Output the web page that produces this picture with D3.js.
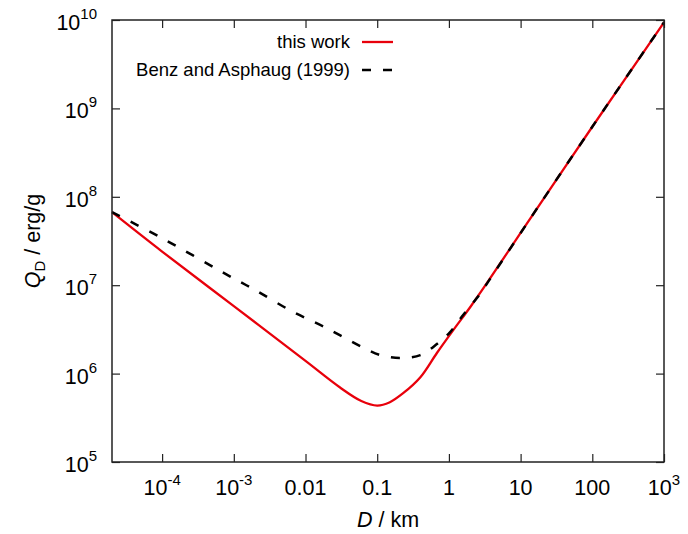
<!DOCTYPE html>
<html>
<head>
<meta charset="utf-8">
<script src="https://cdn.jsdelivr.net/npm/d3@7"></script>
<style>
  body { margin: 0; background: #fff; }
  text { font-family: "Liberation Sans", Arial, sans-serif; fill: #000; }
</style>
</head>
<body>
<div id="vis"></div>
<script>
// D in km, Q_D in erg/g
var redD = [2e-5, 1e-4, 1e-3, 0.01, 0.03, 0.06, 0.1, 0.15, 0.23, 0.4, 0.68, 1.15, 2.0, 3.4, 10, 100, 1000];
var redQ = [6.7e7, 2.4e7, 5.8e6, 1.39e6, 7.0e5, 4.9e5, 4.35e5, 4.75e5, 6.0e5, 9.1e5, 1.71e6, 3.1e6, 5.7e6, 1.06e7, 3.9e7, 6.2e8, 9.4e9];

var benzD = [2e-5, 1e-4, 1e-3, 2e-3, 6.1e-3, 0.02, 0.061, 0.11, 0.21, 0.40, 0.68, 1.04, 1.58, 2.47, 3.52, 10, 100, 1000];
var benzQ = [6.7e7, 3.4e7, 1.19e7, 8.8e6, 5.2e6, 3.25e6, 2.0e6, 1.62e6, 1.5e6, 1.62e6, 2.16e6, 2.95e6, 4.6e6, 7.2e6, 1.09e7, 3.9e7, 6.2e8, 9.4e9];

var xTicks = [1e-4, 1e-3, 0.01, 0.1, 1, 10, 100, 1000];
var xTickBase = ["10", "10", "0.01", "0.1", "1", "10", "100", "10"];
var xTickSup = ["-4", "-3", "", "", "", "", "", "3"];

var yTicks = [1e5, 1e6, 1e7, 1e8, 1e9, 1e10];
var yTickSup = ["5", "6", "7", "8", "9", "10"];

var legendNames = ["this work", "Benz and Asphaug (1999)"];

var width = 688, height = 534;
var margin = {top: 20, right: 24, bottom: 72, left: 112};
var innerW = width - margin.left - margin.right,
    innerH = height - margin.top - margin.bottom;

var svg = d3.select("#vis").append("svg")
  .attr("width", width)
  .attr("height", height);

var g = svg.append("g")
  .attr("transform", "translate(" + margin.left + "," + margin.top + ")");

var x = d3.scaleLog().domain([2e-5, 1e3]).range([0, innerW]);
var y = d3.scaleLog().domain([1e5, 1e10]).range([innerH, 0]);

// axes with inward ticks on all four sides
function styleAxis(sel) {
  sel.select(".domain").remove();
  sel.selectAll(".tick line").attr("stroke", "#222").attr("stroke-width", 1.2);
}
g.append("g").attr("transform", "translate(0," + innerH + ")")
  .call(d3.axisBottom(x).tickValues(xTicks).tickSize(-8).tickFormat(""))
  .call(styleAxis);
g.append("g")
  .call(d3.axisTop(x).tickValues(xTicks).tickSize(-8).tickFormat(""))
  .call(styleAxis);
g.append("g")
  .call(d3.axisLeft(y).tickValues(yTicks).tickSize(-8).tickFormat(""))
  .call(styleAxis);
g.append("g").attr("transform", "translate(" + innerW + ",0)")
  .call(d3.axisRight(y).tickValues(yTicks).tickSize(-8).tickFormat(""))
  .call(styleAxis);

// tick labels
var xl = g.selectAll(".xlab").data(xTicks).enter().append("text")
  .attr("class", "xlab")
  .attr("x", function (d) { return x(d); })
  .attr("y", innerH + 33)
  .attr("text-anchor", "middle")
  .style("font-size", "21.5px");
xl.append("tspan").text(function (d, i) { return xTickBase[i]; });
xl.append("tspan")
  .attr("dy", -10)
  .style("font-size", "15px")
  .text(function (d, i) { return xTickSup[i]; });

var yl = g.selectAll(".ylab").data(yTicks).enter().append("text")
  .attr("class", "ylab")
  .attr("x", -15)
  .attr("y", function (d) { return y(d) + 10; })
  .attr("text-anchor", "end")
  .style("font-size", "21.5px");
yl.append("tspan").text("10");
yl.append("tspan")
  .attr("dy", -11)
  .style("font-size", "15px")
  .text(function (d, i) { return yTickSup[i]; });

// curves
var line = d3.line()
  .x(function (d) { return x(d[0]); })
  .y(function (d) { return y(d[1]); })
  .curve(d3.curveCatmullRom.alpha(0.5));

var redData = redD.map(function (d, i) { return [d, redQ[i]]; });
var benzData = benzD.map(function (d, i) { return [d, benzQ[i]]; });

g.append("path")
  .datum(redData)
  .attr("d", line)
  .attr("fill", "none")
  .attr("stroke", "#e8000b")
  .attr("stroke-width", 2.3);

g.append("path")
  .datum(benzData)
  .attr("d", line)
  .attr("fill", "none")
  .attr("stroke", "#000")
  .attr("stroke-width", 2.5)
  .attr("stroke-dasharray", "9,12");

// frame
g.append("rect")
  .attr("width", innerW)
  .attr("height", innerH)
  .attr("fill", "none")
  .attr("stroke", "#222")
  .attr("stroke-width", 1.5);

// legend
var legend = g.append("g").attr("transform", "translate(238,22)");
var legColors = ["#e8000b", "#000"];
var legDash = [null, "9,12"];
legendNames.forEach(function (name, i) {
  legend.append("text")
    .attr("x", 0)
    .attr("y", i * 28 + 6)
    .attr("text-anchor", "end")
    .style("font-size", "18.5px")
    .text(name);
  legend.append("line")
    .attr("x1", 12).attr("x2", 43)
    .attr("y1", i * 28).attr("y2", i * 28)
    .attr("stroke", legColors[i])
    .attr("stroke-width", i ? 2.5 : 2.3)
    .attr("stroke-dasharray", legDash[i]);
});

// axis titles
var xt = svg.append("text")
  .attr("x", margin.left + innerW / 2)
  .attr("y", 527)
  .attr("text-anchor", "middle")
  .style("font-size", "21.5px");
xt.append("tspan").style("font-style", "italic").text("D");
xt.append("tspan").text(" / km");

var yt = svg.append("text")
  .attr("transform", "translate(40," + (margin.top + innerH / 2) + ") rotate(-90)")
  .attr("text-anchor", "middle")
  .style("font-size", "21.5px");
yt.append("tspan").style("font-style", "italic").text("Q");
yt.append("tspan").attr("dy", 5).style("font-size", "15px").text("D");
yt.append("tspan").attr("dy", -5).text(" / erg/g");
</script>
</body>
</html>
